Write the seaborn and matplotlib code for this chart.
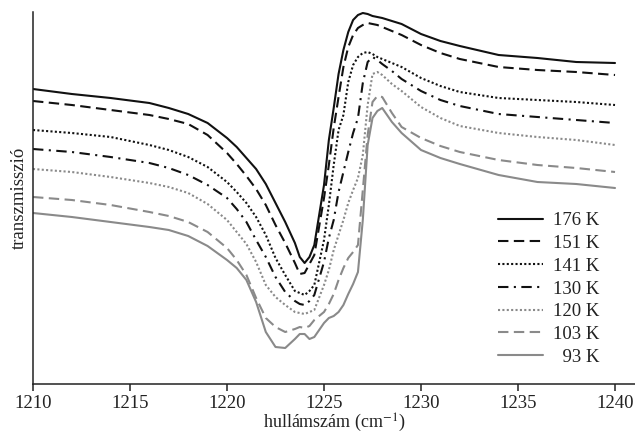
import numpy as np
import pandas as pd
import matplotlib
matplotlib.use("Agg")
import matplotlib.pyplot as plt
import seaborn as sns

wavenumber = [1210, 1212, 1214, 1216, 1217, 1218, 1219, 1220, 1220.5, 1221, 1221.5,
              1222, 1222.5, 1223, 1223.5, 1223.75, 1224, 1224.25, 1224.5, 1225, 1225.25,
              1225.5, 1225.75, 1226, 1226.25, 1226.5, 1226.75, 1227, 1227.25, 1227.5,
              1227.75, 1228, 1228.5, 1229, 1230, 1231, 1232, 1234, 1236, 1238, 1240]

t176 = [295, 290, 286, 281, 276, 270, 261, 246, 237, 226, 215, 200, 181, 162, 141, 127, 121,
        127, 139, 199, 244, 276, 310, 334, 352, 364, 369, 371, 370, 368, 367, 366, 363, 360,
        350, 343, 338, 329, 326, 322, 321]
t151 = [283, 279, 274, 269, 265, 260, 249, 231, 220, 208, 195, 179, 159, 141, 121, 110, 111,
        120, 129, 186, 219, 256, 287, 317, 337, 349, 356, 359, 361, 360, 359, 357, 353, 349,
        339, 331, 325, 317, 314, 312, 309]
t141 = [254, 251, 247, 239, 234, 227, 217, 202, 192, 181, 167, 149, 126, 109, 93, 91, 89,
        93, 99, 144, 179, 219, 254, 269, 302, 319, 327, 331, 332, 330, 327, 325, 321, 317,
        306, 298, 292, 286, 284, 282, 279]
t130 = [235, 232, 227, 221, 216, 209, 199, 186, 175, 162, 144, 127, 107, 92, 83, 80, 79,
        83, 89, 122, 146, 164, 192, 212, 232, 251, 266, 301, 322, 327, 324, 320, 313, 305,
        293, 284, 278, 270, 267, 264, 261]
t120 = [215, 212, 207, 201, 197, 191, 180, 164, 152, 140, 122, 99, 87, 79, 72, 71, 70,
        72, 74, 99, 114, 134, 149, 164, 181, 194, 206, 229, 279, 310, 312, 309, 300, 293,
        277, 266, 258, 251, 247, 244, 239]
t103 = [187, 184, 179, 172, 168, 162, 152, 136, 124, 109, 86, 66, 57, 52, 55, 57, 56,
        58, 64, 72, 80, 90, 104, 116, 126, 132, 139, 194, 249, 282, 288, 287, 271, 257,
        246, 238, 232, 224, 219, 216, 212]
t93 = [171, 167, 162, 157, 154, 148, 138, 124, 116, 104, 82, 52, 37, 36, 45, 50, 50,
       45, 47, 61, 66, 68, 72, 79, 90, 100, 112, 164, 239, 266, 273, 276, 262, 251,
       234, 226, 220, 209, 202, 200, 196]

labels = ["176 K", "151 K", "141 K", "130 K", "120 K", "103 K", "  93 K"]
series = [t176, t151, t141, t130, t120, t103, t93]

sns.set_theme(style="ticks")
plt.rcParams['font.family'] = ['Liberation Serif', 'DejaVu Serif']
plt.rcParams['mathtext.fontset'] = 'stix'

black = "#111111"
gray = "#8a8a8a"
styles = [
    (black, (None, None)),
    (black, (5, 2.6)),
    (black, (1, 1.1)),
    (black, (5, 2.6, 1, 2.6)),
    (gray, (1, 1.1)),
    (gray, (5, 2.6)),
    (gray, (None, None)),
]

fig = plt.figure(figsize=(6.35, 4.36), dpi=100)
ax = fig.add_axes([33/635, 52/436, 602/635, 372/436])

for lab, vals, (col, dash) in zip(labels, series, styles):
    df = pd.DataFrame({"x": wavenumber, "y": vals})
    sns.lineplot(data=df, x="x", y="y", ax=ax, color=col, lw=1.5, label=lab,
                 estimator=None, sort=False)
    if dash[0] is not None:
        ax.lines[-1].set_dashes(dash)

ax.set_xlim(1210, 1241.03)
ax.set_ylim(0, 372)
ax.set_xticks([1210, 1215, 1220, 1225, 1230, 1235, 1240])
ax.set_yticks([])
ax.tick_params(axis='x', direction='out', length=5, width=1.1, labelsize=13.5, pad=3,
               colors='#222222')
for s in ['top', 'right']:
    ax.spines[s].set_visible(False)
for s in ['left', 'bottom']:
    ax.spines[s].set_linewidth(1.1)
    ax.spines[s].set_color('#222222')

ax.set_xlabel("hullámszám (cm$^{-1}$)", fontsize=13, labelpad=0, color='#222222')
ax.set_ylabel("transzmisszió", fontsize=13.5, labelpad=4, color='#222222')

leg = ax.legend(loc='upper left', bbox_to_anchor=(0.773, 0.462), frameon=False,
                fontsize=13.5, handlelength=2.4, handletextpad=0.5, labelspacing=0.3,
                borderpad=0, borderaxespad=0)
for t in leg.get_texts():
    t.set_color('#222222')

fig.savefig("out.png", dpi=100)
